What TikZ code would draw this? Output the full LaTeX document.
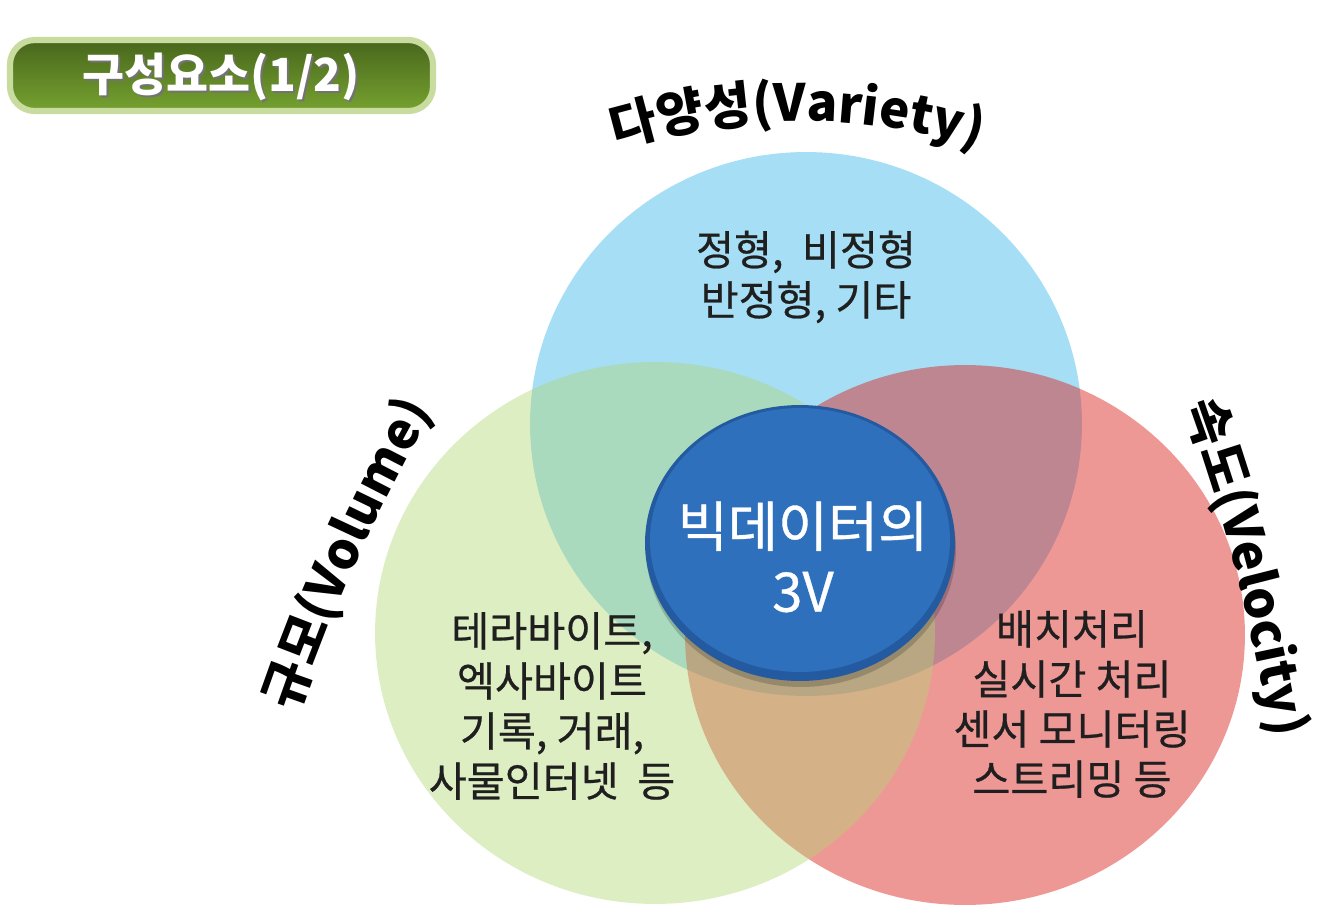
\documentclass[tikz,border=0pt]{standalone}
\usepackage{fontspec}
\setmainfont{Noto Sans CJK KR}
\newfontfamily\boxfont[FakeBold=0.6]{Noto Sans CJK KR}
\usetikzlibrary{decorations.text}
\definecolor{varietyblue}{RGB}{165,222,245}
\definecolor{velocityred}{RGB}{219,36,32}
\definecolor{volumegreen}{RGB}{176,214,112}
\definecolor{coreblue}{RGB}{47,112,188}
\definecolor{corerim}{RGB}{36,90,160}
\definecolor{tagdark}{RGB}{72,102,28}
\definecolor{taglight}{RGB}{118,162,48}
\definecolor{tagrim}{RGB}{200,220,160}
\tikzset{
  bodytext/.style={align=center, text=black!88, font=\boxfont\fontsize{23.5}{28.5}\selectfont},
  coretext/.style={align=center, text=white, font=\boxfont\fontsize{31}{37}\selectfont},
  tagtext/.style={font=\bfseries\fontsize{26}{28}\selectfont},
}

\begin{document}
\begin{tikzpicture}[x=0.02cm, y=-0.02cm]
	\useasboundingbox (0,0) rectangle (1330,920);
	\coordinate (vc) at (806,424);
	\coordinate (rc) at (965,635);
	\coordinate (gc) at (655,633);
	\coordinate (cc) at (800,543);
	
	\shadedraw[top color=tagdark, bottom color=taglight, draw=tagrim, line width=3.5pt, rounded corners=14pt] (10,40) rectangle (433,111);
	\node[tagtext, text=black!55] (tagshadow) at (223,79) {구성요소(1/2)};
	\node[tagtext, text=white] (tag) at (221,77) {구성요소(1/2)};
	
	\fill[varietyblue] (vc) circle [x radius=5.52cm, y radius=5.44cm];
	\fill[velocityred, fill opacity=0.47] (rc) circle [x radius=5.6cm, y radius=5.4cm];
	\fill[volumegreen, fill opacity=0.42] (gc) circle [x radius=5.6cm, y radius=5.42cm];
	
	\fill[black, opacity=0.18] (801,549) circle [x radius=3.1cm, y radius=2.76cm];
	\fill[corerim] (cc) circle [x radius=3.1cm, y radius=2.76cm];
	\fill[coreblue] (800,540) circle [x radius=3.0cm, y radius=2.64cm];
	
	\path[decorate, decoration={text along path, text align=center,
		text={|\bfseries\fontsize{29}{30}\selectfont|다양성(Variety)}}]
		(597,154) .. controls (726,110) and (868,110) .. (997,154);
	\path[decorate, decoration={text along path, text align=center,
		text={|\bfseries\fontsize{29}{30}\selectfont|규모(Volume)}}]
		(284,752) .. controls (326,619) and (382,494) .. (454,375);
	\path[decorate, decoration={text along path, text align=center,
		text={|\bfseries\fontsize{29}{30}\selectfont|속도(Velocity)}}]
		(1171,370) .. controls (1222,501) and (1257,637) .. (1278,776);
	
	\node[bodytext] (variety) at (806,277) {정형,\ \ 비정형\\반정형, 기타};
	\node[bodytext] (volume) at (552,706) {테라바이트,\\엑사바이트\\기록, 거래,\\사물인터넷\ \ 등};
	\node[bodytext] (velocity) at (1072,704) {배치처리\\실시간 처리\\센서 모니터링\\스트리밍 등};
	\node[coretext] (core) at (803,557) {빅데이터의\\3V};
\end{tikzpicture}
\end{document}
